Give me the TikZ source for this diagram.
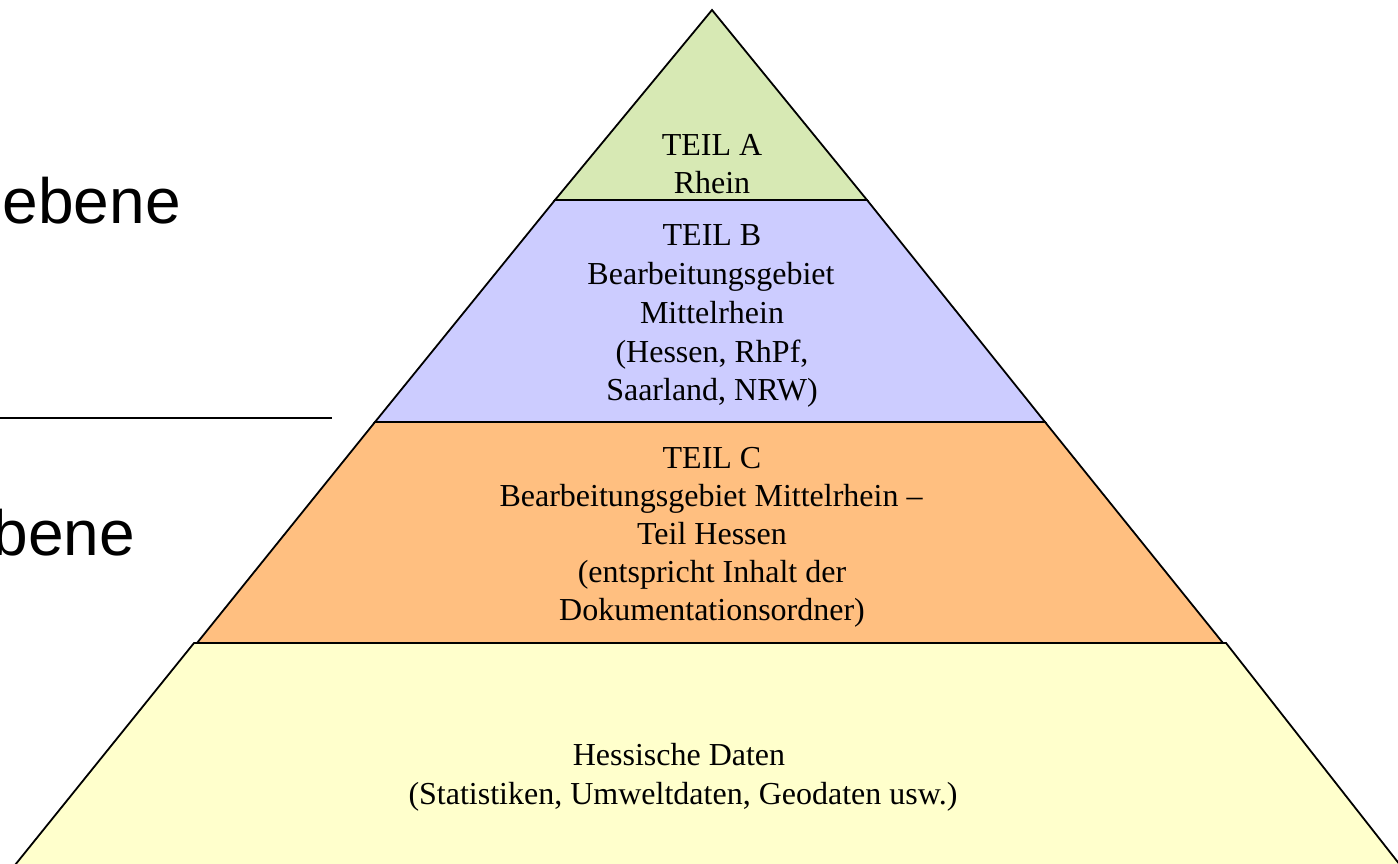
\documentclass[tikz,border=0pt]{standalone}
\usepackage{fontspec}
\setmainfont{Liberation Serif}
\newfontfamily\arialfont{Liberation Sans}
\definecolor{teilA}{RGB}{215,233,180}
\definecolor{teilB}{RGB}{204,204,255}
\definecolor{teilC}{RGB}{255,191,128}
\definecolor{teilD}{RGB}{255,255,204}
\tikzset{
  band/.style={draw=black,line width=1.8pt,line join=miter},
  bandtext/.style={anchor=base,inner sep=0pt,font=\fontsize{32}{38}\selectfont},
  leveltext/.style={anchor=base east,inner sep=0pt,font=\arialfont\fontsize{64}{70}\selectfont},
}
\begin{document}
\begin{tikzpicture}[x=1pt,y=-1pt]
\useasboundingbox (0,0) rectangle (1398,863);
\clip (0,0) rectangle (1398,863);
% bands
\fill[white] (0,0) rectangle (1398,863);
\draw[band,fill=teilD] (194,643) -- (1226,643) -- (1404,870) -- (11,870) -- cycle;
\draw[band,fill=teilC] (375,422) -- (1045,422) -- (1223,643) -- (197,643) -- cycle;
\draw[band,fill=teilB] (555,200) -- (867,200) -- (1045,422) -- (375,422) -- cycle;
\draw[band,fill=teilA] (712,10) -- (867,200) -- (555,200) -- cycle;
% texts
\node[bandtext] (a1) at (712,155) {TEIL A};
\node[bandtext] (a2) at (712,193) {Rhein};
\node[bandtext] (b1) at (712,245) {TEIL B};
\node[bandtext] (b2) at (711,284) {Bearbeitungsgebiet};
\node[bandtext] (b3) at (712,323) {Mittelrhein};
\node[bandtext] (b4) at (712,362) {(Hessen, RhPf,};
\node[bandtext] (b5) at (712,400) {Saarland, NRW)};
\node[bandtext] (c1) at (712,468) {TEIL C};
\node[bandtext] (c2) at (711,506) {Bearbeitungsgebiet Mittelrhein --};
\node[bandtext] (c3) at (712,544) {Teil Hessen};
\node[bandtext] (c4) at (712,582) {(entspricht Inhalt der};
\node[bandtext] (c5) at (712,620) {Dokumentationsordner)};
\node[bandtext] (d1) at (679,765) {Hessische Daten};
\node[bandtext] (d2) at (683,804) {(Statistiken, Umweltdaten, Geodaten usw.)};
% left side
\node[leveltext] (l1) at (181,223) {ebene};
\node[leveltext] (l2) at (135,555) {bene};
\coordinate (s1) at (0,418);
\coordinate (s2) at (332,418);
\draw[line width=1.5pt] (s1) -- (s2);
\end{tikzpicture}
\end{document}
